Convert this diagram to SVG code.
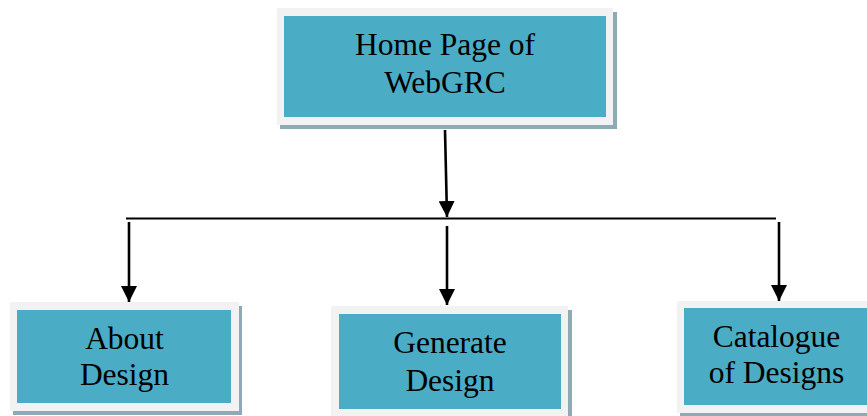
<svg xmlns="http://www.w3.org/2000/svg" width="867" height="416" viewBox="0 0 867 416">
<style>
.shadow{fill:#8FAAB4}
.outer{fill:#F2F2F2}
.inner{fill:#4BACC6}
.lbl{font-family:"Liberation Serif","Times New Roman",serif;font-size:31.5px;fill:#000;text-anchor:middle}
.arr{stroke:#000;stroke-width:2.6;fill:none}
.bus{stroke:#000;stroke-width:2;fill:none}
</style>
<defs>
<marker id="ah" viewBox="0 0 16 16" refX="16" refY="8" markerWidth="16" markerHeight="16" markerUnits="userSpaceOnUse" orient="auto">
<path d="M0,0 L16,8 L0,16 Z" fill="#000"/>
</marker>
</defs>
<rect width="867" height="416" fill="#fff"/>
<g id="home">
<rect class="shadow" x="280" y="12" width="337" height="117"/>
<rect class="outer" x="277" y="8" width="336" height="117"/>
<rect class="inner" x="284" y="16" width="322" height="101"/>
<text class="lbl" x="445" y="55">Home Page of</text>
<text class="lbl" x="445" y="93">WebGRC</text>
</g>
<g id="about">
<rect class="shadow" x="13" y="306" width="229" height="109"/>
<rect class="outer" x="10" y="302" width="229" height="109"/>
<rect class="inner" x="17" y="310" width="214" height="93"/>
<text class="lbl" x="124.5" y="349">About</text>
<text class="lbl" x="124.5" y="385">Design</text>
</g>
<g id="generate">
<rect class="shadow" x="334" y="310" width="238" height="110"/>
<rect class="outer" x="331" y="306" width="237" height="110"/>
<rect class="inner" x="339" y="314" width="222" height="95"/>
<text class="lbl" x="450" y="353">Generate</text>
<text class="lbl" x="450" y="391">Design</text>
</g>
<g id="catalogue">
<rect class="shadow" x="680" y="305" width="200" height="111"/>
<rect class="outer" x="677" y="301" width="200" height="112"/>
<rect class="inner" x="684" y="308" width="190" height="97"/>
<text class="lbl" x="776.5" y="347">Catalogue</text>
<text class="lbl" x="776.5" y="383">of Designs</text>
</g>
<g id="connectors">
<line class="arr" x1="445" y1="130" x2="447" y2="217" marker-end="url(#ah)"/>
<line class="bus" x1="126" y1="218.5" x2="776" y2="218.5"/>
<line class="arr" x1="129" y1="222" x2="129" y2="302" marker-end="url(#ah)"/>
<line class="arr" x1="447" y1="226" x2="447" y2="305" marker-end="url(#ah)"/>
<line class="arr" x1="779" y1="222" x2="779" y2="301" marker-end="url(#ah)"/>
</g>
</svg>
